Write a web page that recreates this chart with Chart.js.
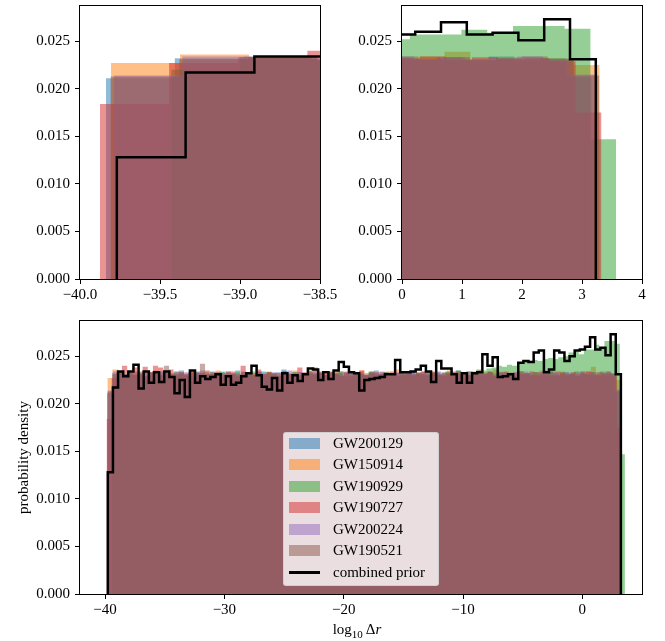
<!DOCTYPE html>
<html>
<head>
<meta charset="utf-8">
<script src="https://cdn.jsdelivr.net/npm/chart.js@4"></script>
<style>
  body { margin: 0; background: #fff; }
  #figure { position: relative; width: 665px; height: 641px; overflow: hidden; }
  .panel { position: absolute; }
  #legend {
    position: absolute; left: 283px; top: 432px; width: 156px; height: 154px;
    box-sizing: border-box; border: 1px solid rgba(204, 204, 204, 0.8); border-radius: 3px;
    background: rgba(255, 255, 255, 0.8); font: 15px "Liberation Serif", serif; color: #000;
  }
  .row { position: absolute; left: 0; width: 150px; height: 21px; }
  .swatch { position: absolute; left: 5px; width: 31px; }
  .text { position: absolute; left: 49px; top: 0; line-height: 21px; white-space: nowrap; }
</style>
</head>
<body>
<div id="figure">
  <canvas id="topLeft" class="panel" style="left:0;top:0" width="345" height="310"></canvas>
  <canvas id="topRight" class="panel" style="left:330px;top:0" width="335" height="310"></canvas>
  <canvas id="bottom" class="panel" style="left:0;top:310px" width="665" height="331"></canvas>
  <div id="legend"></div>
</div>
<script>
// events, in the order they were plotted
const eventNames = ['GW200129', 'GW150914', 'GW190929', 'GW190727', 'GW200224', 'GW190521'];
const eventColors = [
    'rgba(31, 119, 180, 0.5)',
    'rgba(255, 127, 14, 0.5)',
    'rgba(44, 160, 44, 0.5)',
    'rgba(214, 39, 40, 0.5)',
    'rgba(148, 103, 189, 0.5)',
    'rgba(140, 86, 75, 0.5)'
];

// left edge of the first bin and bin width of each histogram (100 bins each)
const binStarts = [-39.8375, -39.806, -39.43, -39.875, -39.79, -39.81];
const binWidths = [0.43, 0.431, 0.43, 0.432, 0.43, 0.431];

const gw200129 = [
    0.0211, 0.0232, 0.0234, 0.0231, 0.0233, 0.0230, 0.0234, 0.0232, 0.0229, 0.0233,
    0.0231, 0.0234, 0.0230, 0.0232, 0.0235, 0.0231, 0.0229, 0.0233, 0.0232, 0.0230,
    0.0234, 0.0231, 0.0233, 0.0228, 0.0232, 0.0235, 0.0231, 0.0233, 0.0230, 0.0232,
    0.0234, 0.0229, 0.0231, 0.0233, 0.0236, 0.0232, 0.0230, 0.0233, 0.0231, 0.0229,
    0.0232, 0.0234, 0.0231, 0.0230, 0.0233, 0.0232, 0.0229, 0.0234, 0.0231, 0.0233,
    0.0230, 0.0232, 0.0235, 0.0231, 0.0233, 0.0229, 0.0232, 0.0234, 0.0230, 0.0233,
    0.0231, 0.0232, 0.0229, 0.0234, 0.0232, 0.0230, 0.0233, 0.0231, 0.0235, 0.0232,
    0.0230, 0.0233, 0.0231, 0.0229, 0.0234, 0.0232, 0.0230, 0.0233, 0.0231, 0.0232,
    0.0234, 0.0230, 0.0232, 0.0233, 0.0229, 0.0231, 0.0234, 0.0232, 0.0230, 0.0233,
    0.0231, 0.0234, 0.0232, 0.0230, 0.0233, 0.0231, 0.0234, 0.0229, 0.0232, 0.0212
];
const gw150914 = [
    0.0227, 0.0236, 0.0232, 0.0230, 0.0234, 0.0231, 0.0233, 0.0229, 0.0232, 0.0235,
    0.0230, 0.0233, 0.0231, 0.0234, 0.0229, 0.0232, 0.0234, 0.0230, 0.0233, 0.0231,
    0.0232, 0.0235, 0.0230, 0.0233, 0.0231, 0.0229, 0.0234, 0.0232, 0.0230, 0.0233,
    0.0231, 0.0234, 0.0232, 0.0229, 0.0233, 0.0231, 0.0235, 0.0230, 0.0232, 0.0234,
    0.0231, 0.0229, 0.0233, 0.0232, 0.0234, 0.0230, 0.0233, 0.0231, 0.0232, 0.0235,
    0.0230, 0.0233, 0.0231, 0.0229, 0.0234, 0.0232, 0.0236, 0.0231, 0.0233, 0.0230,
    0.0232, 0.0234, 0.0231, 0.0233, 0.0229, 0.0232, 0.0235, 0.0230, 0.0233, 0.0231,
    0.0234, 0.0232, 0.0230, 0.0233, 0.0231, 0.0236, 0.0232, 0.0229, 0.0233, 0.0231,
    0.0234, 0.0232, 0.0230, 0.0233, 0.0235, 0.0231, 0.0232, 0.0229, 0.0234, 0.0232,
    0.0230, 0.0233, 0.0231, 0.0234, 0.0239, 0.0230, 0.0233, 0.0231, 0.0232, 0.0225
];
const gw190929 = [
    0.0220, 0.0233, 0.0231, 0.0234, 0.0230, 0.0232, 0.0229, 0.0233, 0.0231, 0.0234,
    0.0232, 0.0230, 0.0233, 0.0231, 0.0229, 0.0234, 0.0232, 0.0230, 0.0233, 0.0231,
    0.0232, 0.0234, 0.0230, 0.0231, 0.0233, 0.0229, 0.0232, 0.0234, 0.0231, 0.0230,
    0.0233, 0.0232, 0.0229, 0.0234, 0.0231, 0.0233, 0.0230, 0.0232, 0.0235, 0.0231,
    0.0232, 0.0230, 0.0233, 0.0231, 0.0234, 0.0229, 0.0232, 0.0233, 0.0231, 0.0230,
    0.0234, 0.0232, 0.0231, 0.0233, 0.0230, 0.0232, 0.0234, 0.0231, 0.0233, 0.0232,
    0.0230, 0.0234, 0.0232, 0.0233, 0.0231, 0.0234, 0.0232, 0.0235, 0.0233, 0.0234,
    0.0234, 0.0236, 0.0235, 0.0237, 0.0238, 0.0240, 0.0239, 0.0241, 0.0240, 0.0244,
    0.0245, 0.0244, 0.0246, 0.0245, 0.0247, 0.0248, 0.0247, 0.0249, 0.0250, 0.0254,
    0.0255, 0.0252, 0.0257, 0.0257, 0.0262, 0.0259, 0.0266, 0.0266, 0.0263, 0.0147
];
const gw190727 = [
    0.0184, 0.0227, 0.0233, 0.0240, 0.0232, 0.0238, 0.0230, 0.0239, 0.0233, 0.0240,
    0.0238, 0.0232, 0.0236, 0.0229, 0.0233, 0.0231, 0.0234, 0.0230, 0.0232, 0.0235,
    0.0231, 0.0233, 0.0229, 0.0232, 0.0234, 0.0231, 0.0240, 0.0230, 0.0232, 0.0236,
    0.0231, 0.0233, 0.0230, 0.0232, 0.0234, 0.0231, 0.0229, 0.0238, 0.0233, 0.0232,
    0.0238, 0.0233, 0.0231, 0.0234, 0.0232, 0.0229, 0.0233, 0.0231, 0.0232, 0.0235,
    0.0230, 0.0232, 0.0233, 0.0231, 0.0229, 0.0234, 0.0232, 0.0230, 0.0233, 0.0231,
    0.0232, 0.0234, 0.0230, 0.0233, 0.0231, 0.0229, 0.0232, 0.0234, 0.0231, 0.0233,
    0.0230, 0.0232, 0.0235, 0.0231, 0.0233, 0.0229, 0.0232, 0.0234, 0.0230, 0.0233,
    0.0231, 0.0232, 0.0234, 0.0230, 0.0233, 0.0231, 0.0229, 0.0234, 0.0232, 0.0230,
    0.0233, 0.0231, 0.0232, 0.0234, 0.0230, 0.0233, 0.0231, 0.0232, 0.0229, 0.0175
];
const gw200224 = [
    0.0214, 0.0234, 0.0232, 0.0231, 0.0233, 0.0230, 0.0232, 0.0234, 0.0231, 0.0229,
    0.0233, 0.0232, 0.0230, 0.0234, 0.0231, 0.0233, 0.0229, 0.0232, 0.0235, 0.0231,
    0.0230, 0.0233, 0.0231, 0.0234, 0.0232, 0.0230, 0.0233, 0.0231, 0.0229, 0.0234,
    0.0232, 0.0231, 0.0233, 0.0230, 0.0232, 0.0235, 0.0231, 0.0233, 0.0230, 0.0232,
    0.0234, 0.0231, 0.0229, 0.0233, 0.0232, 0.0230, 0.0234, 0.0231, 0.0233, 0.0232,
    0.0229, 0.0233, 0.0231, 0.0234, 0.0232, 0.0230, 0.0233, 0.0231, 0.0232, 0.0235,
    0.0230, 0.0233, 0.0231, 0.0229, 0.0234, 0.0232, 0.0230, 0.0233, 0.0231, 0.0232,
    0.0234, 0.0230, 0.0233, 0.0231, 0.0232, 0.0229, 0.0234, 0.0232, 0.0230, 0.0233,
    0.0231, 0.0234, 0.0232, 0.0230, 0.0233, 0.0235, 0.0231, 0.0232, 0.0230, 0.0233,
    0.0231, 0.0232, 0.0234, 0.0231, 0.0233, 0.0230, 0.0232, 0.0234, 0.0231, 0.0215
];
const gw190521 = [
    0.0213, 0.0231, 0.0233, 0.0230, 0.0232, 0.0234, 0.0231, 0.0229, 0.0233, 0.0232,
    0.0230, 0.0240, 0.0232, 0.0231, 0.0233, 0.0230, 0.0232, 0.0234, 0.0242, 0.0231,
    0.0233, 0.0230, 0.0232, 0.0234, 0.0231, 0.0229, 0.0233, 0.0232, 0.0230, 0.0234,
    0.0231, 0.0233, 0.0232, 0.0229, 0.0234, 0.0231, 0.0233, 0.0230, 0.0232, 0.0234,
    0.0231, 0.0232, 0.0230, 0.0233, 0.0231, 0.0234, 0.0232, 0.0229, 0.0233, 0.0231,
    0.0232, 0.0234, 0.0230, 0.0233, 0.0231, 0.0232, 0.0229, 0.0234, 0.0232, 0.0230,
    0.0233, 0.0231, 0.0234, 0.0232, 0.0230, 0.0233, 0.0231, 0.0229, 0.0234, 0.0232,
    0.0230, 0.0233, 0.0231, 0.0232, 0.0234, 0.0230, 0.0233, 0.0231, 0.0232, 0.0229,
    0.0234, 0.0232, 0.0230, 0.0233, 0.0231, 0.0232, 0.0234, 0.0230, 0.0233, 0.0231,
    0.0232, 0.0229, 0.0234, 0.0231, 0.0233, 0.0230, 0.0232, 0.0234, 0.0231, 0.0214
];
const eventValues = [gw200129, gw150914, gw190929, gw190727, gw200224, gw190521];

// combined prior, black step outline
const combinedStart = -39.77;
const combinedWidth = 0.43;
const combinedPrior = [
    0.0128, 0.0217, 0.0234, 0.0229, 0.0234, 0.0241, 0.0216, 0.0234, 0.0222, 0.0233,
    0.0223, 0.0234, 0.0228, 0.0211, 0.0225, 0.0207, 0.0235, 0.0222, 0.0229, 0.0226,
    0.0228, 0.0231, 0.0220, 0.0229, 0.0220, 0.0222, 0.0229, 0.0232, 0.0240, 0.0230,
    0.0218, 0.0215, 0.0227, 0.0214, 0.0232, 0.0222, 0.0230, 0.0224, 0.0231, 0.0237,
    0.0236, 0.0225, 0.0233, 0.0226, 0.0235, 0.0244, 0.0239, 0.0233, 0.0232, 0.0214,
    0.0225, 0.0226, 0.0227, 0.0228, 0.0231, 0.0231, 0.0246, 0.0233, 0.0233, 0.0234,
    0.0236, 0.0240, 0.0234, 0.0223, 0.0245, 0.0237, 0.0237, 0.0231, 0.0222, 0.0232,
    0.0222, 0.0232, 0.0233, 0.0252, 0.0240, 0.0249, 0.0228, 0.0229, 0.0231, 0.0226,
    0.0243, 0.0245, 0.0244, 0.0254, 0.0256, 0.0233, 0.0236, 0.0256, 0.0254, 0.0245,
    0.0250, 0.0256, 0.0257, 0.0260, 0.0270, 0.0257, 0.0259, 0.0251, 0.0273, 0.0231
];

const yMax = 0.0287;

Chart.defaults.font.family = '"Liberation Serif", "Times New Roman", serif';
Chart.defaults.font.size = 15;
Chart.defaults.color = '#000';

/**
 * Turn bin values into step points: up from zero at the first edge,
 * one point per bin, and back down to zero at the last edge.
 */
function histPoints(start, width, values) {
    let pts = [{x: start, y: 0}];
    values.forEach((v, i) => pts.push({x: start + i * width, y: v}));
    let end = start + values.length * width;
    pts.push({x: end, y: values[values.length - 1]});
    pts.push({x: end, y: 0});
    return pts;
}

function fmt(v, decimals) {
    let s = Number(v).toFixed(decimals);
    return s.charAt(0) === '-' ? '\u2212' + s.slice(1) : s;
}

// all four spines, like matplotlib
const framePlugin = {
    id: 'frame',
    afterDatasetsDraw(chart) {
        const {ctx, chartArea: a} = chart;
        ctx.save();
        ctx.strokeStyle = '#000';
        ctx.lineWidth = 1;
        ctx.strokeRect(Math.round(a.left) - 0.5, Math.round(a.top) - 0.5,
            Math.round(a.right - a.left) + 1, Math.round(a.bottom - a.top) + 1);
        ctx.restore();
    }
};

// x label with a subscript: log_10 Δr
const xTitlePlugin = {
    id: 'xTitle',
    afterDraw(chart) {
        const ctx = chart.ctx;
        const a = chart.chartArea;
        const fam = '"Liberation Serif", serif';
        const parts = [
            ['log', '15px ' + fam, 0],
            ['10', '11px ' + fam, 4],
            ['\u2009\u0394', '15px ' + fam, 0],
            ['r', 'italic 15px ' + fam, 0]
        ];
        let w = 0;
        parts.forEach(p => { ctx.font = p[1]; w += ctx.measureText(p[0]).width; });
        let x = (a.left + a.right) / 2 - 4 - w / 2;
        const y = chart.height - 7;
        ctx.save();
        ctx.fillStyle = '#000';
        ctx.textBaseline = 'alphabetic';
        parts.forEach(p => {
            ctx.font = p[1];
            ctx.fillText(p[0], x, y + p[2]);
            x += ctx.measureText(p[0]).width;
        });
        ctx.restore();
    }
};

function makeChart(canvasId, p) {
    let datasets = eventNames.map((name, i) => ({
        label: name,
        data: histPoints(binStarts[i], binWidths[i], eventValues[i]),
        stepped: 'before',
        fill: 'origin',
        backgroundColor: eventColors[i],
        borderWidth: 0,
        pointRadius: 0,
        order: eventNames.length - i
    }));
    datasets.push({
        label: 'combined prior',
        data: histPoints(combinedStart, combinedWidth, combinedPrior),
        stepped: 'before',
        fill: false,
        borderColor: '#000',
        borderWidth: 2.5,
        pointRadius: 0,
        order: 0
    });

    let plugins = [framePlugin];
    if (p.xTitle) {
        plugins.push(xTitlePlugin);
    }

    return new Chart(document.getElementById(canvasId), {
        type: 'line',
        data: { datasets: datasets },
        options: {
            responsive: false,
            animation: false,
            events: [],
            layout: { padding: p.pad },
            plugins: {
                legend: { display: false },
                tooltip: { enabled: false }
            },
            scales: {
                x: {
                    type: 'linear',
                    min: p.xMin,
                    max: p.xMax,
                    ticks: {
                        stepSize: p.xStep,
                        includeBounds: false,
                        autoSkip: false,
                        maxRotation: 0,
                        padding: 2
                    },
                    grid: { drawOnChartArea: false, tickLength: 5, tickColor: '#000' },
                    border: { display: false },
                    afterTickToLabelConversion: s => {
                        s.ticks.forEach(t => { t.label = fmt(t.value, p.decimals); });
                    },
                    afterFit: s => { s.height = p.xHeight; s.paddingLeft = 0; s.paddingRight = 0; }
                },
                y: {
                    type: 'linear',
                    min: 0,
                    max: yMax,
                    ticks: {
                        stepSize: 0.005,
                        includeBounds: false,
                        padding: 5
                    },
                    grid: { drawOnChartArea: false, tickLength: 5, tickColor: '#000' },
                    border: { display: false },
                    title: {
                        display: !!p.yTitle,
                        text: 'probability density',
                        padding: { top: 15, bottom: 0 }
                    },
                    afterTickToLabelConversion: s => {
                        s.ticks.forEach(t => { t.label = fmt(t.value, 3); });
                    },
                    afterFit: s => { s.width = p.yWidth; s.paddingTop = 0; s.paddingBottom = 0; }
                }
            }
        },
        plugins: plugins
    });
}

function buildLegend() {
    const box = document.getElementById('legend');
    let items = eventNames.map((name, i) => ({label: name, color: eventColors[i], line: false}));
    items.push({label: 'combined prior', color: '#000', line: true});
    items.forEach((item, i) => {
        let row = document.createElement('div');
        row.className = 'row';
        row.style.top = (-0.5 + 21.5 * i) + 'px';
        let sw = document.createElement('div');
        sw.className = 'swatch';
        sw.style.background = item.color;
        sw.style.height = item.line ? '3px' : '11px';
        sw.style.top = item.line ? '9px' : '5px';
        let tx = document.createElement('div');
        tx.className = 'text';
        tx.textContent = item.label;
        row.appendChild(sw);
        row.appendChild(tx);
        box.appendChild(row);
    });
}

makeChart('topLeft', {
    xMin: -40, xMax: -38.5, xStep: 0.5, decimals: 1,
    pad: { top: 6, right: 25, left: 0, bottom: 0 }, yWidth: 80, xHeight: 31
});
makeChart('topRight', {
    xMin: 0, xMax: 4, xStep: 1, decimals: 0,
    pad: { top: 6, right: 23, left: 0, bottom: 0 }, yWidth: 72, xHeight: 31
});
makeChart('bottom', {
    xMin: -42.1, xMax: 5, xStep: 10, decimals: 0,
    pad: { top: 11, right: 23, left: 0, bottom: 0 }, yWidth: 80, xHeight: 47,
    yTitle: true, xTitle: true
});
buildLegend();
</script>
</body>
</html>
